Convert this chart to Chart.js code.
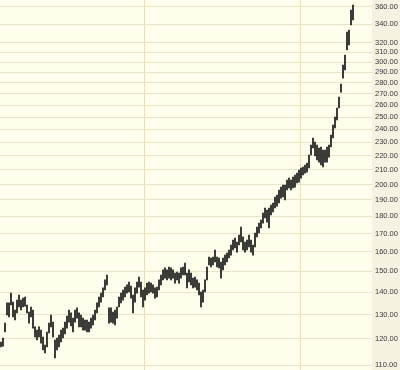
<!DOCTYPE html>
<html>
<head>
<meta charset="utf-8">
<script src="https://cdn.jsdelivr.net/npm/chart.js@4.4.1/dist/chart.umd.min.js"></script>
<style>
  html, body { margin: 0; padding: 0; background: #FFFDEC; }
  #wrap { width: 400px; height: 370px; position: relative; }
</style>
</head>
<body>
<div id="wrap"><canvas id="c"></canvas></div>
<script>
// Daily price ranges (high / low)
const highs = [118.7,120.3,126.4,135.1,135.1,139.6,135.5,132.0,136.4,138.7,
136.4,137.3,137.8,134.2,131.1,133.3,132.0,124.8,123.5,124.8,
123.5,120.7,117.5,122.7,126.4,129.8,126.8,119.5,120.3,121.5,
123.5,124.3,126.8,129.4,132.0,130.7,128.5,132.0,132.9,130.7,
129.8,128.5,127.7,127.7,126.8,128.5,129.8,132.0,135.1,137.8,
139.6,142.0,145.8,148.2,132.9,132.9,131.1,132.0,133.3,137.8,
139.6,141.0,142.4,143.4,144.8,142.9,138.7,142.0,144.8,147.2,
144.8,141.0,142.0,144.3,144.8,144.3,143.4,142.0,142.4,145.8,
148.2,150.7,151.7,150.7,152.2,151.7,150.7,149.2,149.7,149.2,
151.7,152.2,154.2,149.2,150.7,149.2,146.7,147.2,145.8,144.3,
140.1,141.0,145.8,152.2,157.3,156.8,157.3,161.0,157.3,156.8,
154.7,156.8,158.3,159.4,161.0,163.7,166.4,167.5,165.3,169.2,
173.7,168.1,165.3,166.4,169.2,166.4,163.7,170.3,173.7,176.0,
177.8,182.0,185.0,183.8,185.0,186.8,188.1,191.9,193.1,196.4,
198.3,199.6,199.6,203.0,204.3,203.0,205.0,206.4,207.7,209.8,
211.2,211.9,213.3,214.7,220.5,227.9,233.3,230.2,227.9,225.7,
226.4,224.2,224.2,226.4,227.9,235.6,243.5,250.1,257.6,267.2,
278.9,297.0,307.0,331.3,333.5,356.4,362.3];

const lows = [116.8,117.1,122.7,129.8,129.0,134.2,129.0,127.7,130.7,133.3,
132.0,133.3,133.7,130.7,126.4,129.0,124.3,120.7,119.5,120.7,
118.3,115.6,114.5,116.8,122.3,124.8,120.7,112.6,115.6,116.8,
118.7,120.3,121.9,124.3,126.8,125.2,122.7,126.8,128.5,124.8,
124.8,123.5,123.5,122.7,122.7,124.3,125.6,127.7,130.7,133.3,
135.5,137.8,141.0,143.4,126.4,126.8,126.4,125.6,128.5,133.3,
135.1,136.4,137.8,139.6,140.1,137.3,130.7,135.5,139.6,142.4,
137.8,133.3,136.4,138.7,139.6,140.1,139.6,137.3,137.8,141.0,
143.4,145.8,146.7,145.8,146.7,145.8,146.7,144.3,145.8,144.3,
146.7,148.2,148.2,142.0,144.8,143.4,142.0,142.4,141.0,138.7,
133.3,135.5,140.1,145.8,153.2,152.2,153.2,154.7,152.2,151.7,
146.7,150.7,153.2,154.7,156.8,158.3,161.0,162.1,159.9,163.7,
165.3,161.0,159.9,161.0,162.6,159.9,158.3,162.6,168.1,170.3,
173.2,176.0,179.0,176.6,173.2,180.8,182.6,185.0,186.2,188.1,
191.2,191.9,190.0,196.4,197.7,196.4,197.7,198.3,201.0,201.6,
204.3,206.4,207.7,208.4,211.2,220.5,225.7,219.8,216.9,215.4,
213.3,211.9,215.4,215.4,219.0,226.4,233.3,241.1,247.6,257.6,
271.6,284.5,292.2,312.2,317.4,339.1,344.8];

// Right-axis tick labels
const yTicks = [110,120,130,140,150,160,170,180,190,200,210,220,230,240,250,260,270,280,290,300,310,320,340,360];
// Category slots (trading sessions), including empty space at the right edge
const slotCount = 186;
const categories = Array.from({length: slotCount}, (_, i) => String(i + 1));
// Sessions where a period boundary (vertical grid line) falls
const periodBreaks = [72, 150];

const bgPlugin = {
  id: 'bg',
  beforeDraw(chart) {
    const {ctx, chartArea} = chart;
    ctx.save();
    ctx.fillStyle = '#FFFDEC';
    ctx.fillRect(0, 0, chart.width, chart.height);
    ctx.fillStyle = '#F5F2E2';
    ctx.fillRect(chartArea.right, 0, chart.width - chartArea.right, chart.height);
    ctx.restore();
  }
};

new Chart(document.getElementById('c'), {
  type: 'bar',
  data: {
    labels: categories,
    datasets: [{
      data: lows.map((l, i) => [l, highs[i]]),
      backgroundColor: '#141414',
      borderWidth: 0,
      barThickness: 1
    }]
  },
  options: {
    responsive: true,
    maintainAspectRatio: false,
    animation: false,
    layout: { padding: 0 },
    plugins: { legend: { display: false }, tooltip: { enabled: false } },
    scales: {
      x: {
        grid: {
          offset: true,
          drawTicks: false,
          color: (c) => periodBreaks.includes(c.index) ? '#E4DEC2' : 'rgba(0,0,0,0)',
          lineWidth: 1
        },
        border: { display: false },
        ticks: { display: false, autoSkip: false },
        afterFit(s) { s.height = 0; s.paddingLeft = 0; s.paddingRight = 0; }
      },
      y: {
        type: 'logarithmic',
        position: 'right',
        min: 108.2,
        max: 368.4,
        bounds: 'data',
        afterBuildTicks(s) { s.ticks = yTicks.map(v => ({ value: v })); },
        afterFit(s) { s.width = 28; s.paddingTop = 0; s.paddingBottom = 0; },
        grid: { drawTicks: false, color: '#E9E3C8', lineWidth: 1 },
        border: { display: false },
        ticks: {
          padding: 3,
          color: '#3a3a3a',
          font: { family: 'Liberation Sans', size: 7.5 },
          callback: (v) => Number(v).toFixed(2)
        }
      }
    }
  },
  plugins: [bgPlugin]
});
</script>
</body>
</html>
